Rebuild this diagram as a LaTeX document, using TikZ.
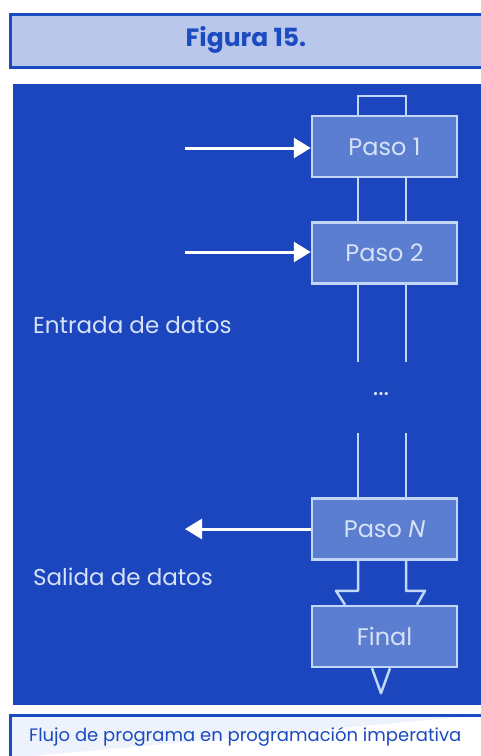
\documentclass[tikz,border=0pt]{standalone}
\usepackage{fontspec}
\setmainfont{Poppins}
\usetikzlibrary{arrows.meta,calc}
\definecolor{panel}{HTML}{1C46BE}
\definecolor{frame}{HTML}{1A4BC0}
\definecolor{headfill}{HTML}{B9C8EA}
\definecolor{capfill}{HTML}{EEF2FB}
\definecolor{boxfill}{HTML}{5B7ED0}
\definecolor{boxline}{HTML}{C2D6F6}
\definecolor{lbl}{HTML}{D6E2F7}
\begin{document}
\begin{tikzpicture}[x=1pt,y=-1pt,
  stepbox/.style={draw=boxline,fill=boxfill,line width=2.5pt,minimum width=145pt,minimum height=61pt,inner sep=0pt,text=lbl,font=\fontsize{24}{24}\selectfont},
  conn/.style={draw=boxline,line width=2.5pt},
  flow/.style={draw=white,line width=3pt,-{Triangle[length=17pt,width=20pt]}},
  sidelbl/.style={anchor=west,text=lbl,font=\fontsize{23}{23}\selectfont,inner sep=0pt}]
\useasboundingbox (0,0) rectangle (481,756);
\fill[white] (0,0) rectangle (481,756);
% header
\draw[frame,fill=headfill,line width=3pt] (483,14) -- (10.5,14) -- (10.5,67) -- (483,67);
\node[font=\bfseries\fontsize{25}{25}\selectfont,text=frame] (title) at (246,40) {Figura 15.};
% panel
\fill[panel] (13,84) rectangle (481,705);
% caption
\draw[frame,fill=capfill,line width=3pt] (483,715) -- (10.5,715) -- (10.5,758);
\node[anchor=west,font=\fontsize{18}{18}\selectfont,text=frame,inner sep=0pt] (cap) at (29,737) {Flujo de programa en programación imperativa};
% boxes
\node[stepbox] (p1) at (384.5,146.5) {Paso 1};
\node[stepbox] (p2) at (384.5,253) {Paso 2};
\node[stepbox] (pn) at (384.5,529) {Paso \textit{N}};
\node[stepbox] (fin) at (384.5,636.5) {Final};
\coordinate (xl) at (358,0);
\coordinate (xr) at (406,0);
% top loop
\draw[conn] (p1.north -| xl) -- ++(0,-19) -| (p1.north -| xr);
% between 1 and 2
\draw[conn] (p1.south -| xl) -- (p2.north -| xl);
\draw[conn] (p1.south -| xr) -- (p2.north -| xr);
% below 2
\coordinate (gapA) at (0,362);
\coordinate (gapB) at (0,433);
\draw[conn] (p2.south -| xl) -- (gapA -| xl);
\draw[conn] (p2.south -| xr) -- (gapA -| xr);
\node[text=lbl,font=\fontsize{26}{26}\selectfont,inner sep=0pt] (dots) at (381,394) {...};
\draw[conn] (gapB -| xl) -- (pn.north -| xl);
\draw[conn] (gapB -| xr) -- (pn.north -| xr);
% funnel
\draw[conn,line join=round] (pn.south -| xl) -- ++(0,30) -- ++(-22,0) -- ($(fin.north -| xl)+(-13,0)$);
\draw[conn,line join=round] (pn.south -| xr) -- ++(0,30) -- ++(19,0) -- ($(fin.north -| xr)+(11,0)$);
% bottom triangle
\coordinate (tip) at ($(fin.south)+(-3.5,25)$);
\draw[conn,line join=round] ($(fin.south)+(-12.5,0)$) -- (tip) -- ($(fin.south)+(5.5,0)$);
% arrows
\coordinate (in1) at (185,148);
\coordinate (in2) at (185,252);
\coordinate (out) at (185,529);
\draw[flow] (in1) -- (in1 -| p1.west);
\draw[flow] (in2) -- (in2 -| p2.west);
\draw[flow] (pn.west) -- (out);
\node[sidelbl] (entrada) at (33,325) {Entrada de datos};
\node[sidelbl] (salida) at (33,577) {Salida de datos};
\end{tikzpicture}
\end{document}
